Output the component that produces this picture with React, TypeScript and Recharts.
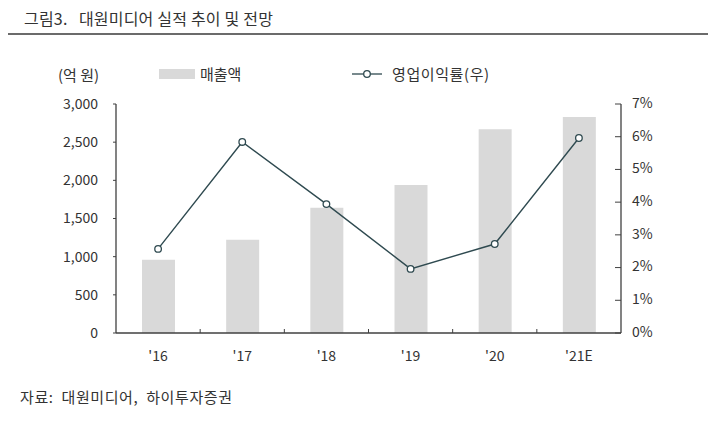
import React from 'react';
import { ComposedChart, Bar, Line, XAxis, YAxis } from 'recharts';

const categories = ["'16", "'17", "'18", "'19", "'20", "'21E"];
const sales = [960, 1220, 1640, 1940, 2670, 2830];
const opMargin = [2.57, 5.84, 3.94, 1.96, 2.72, 5.96];
const leftTicks = [0, 500, 1000, 1500, 2000, 2500, 3000];
const rightTicks = [0, 1, 2, 3, 4, 5, 6, 7];

const data = categories.map((name, i) => ({ name, sales: sales[i], margin: opMargin[i] }));

const W = 719;
const H = 426;
const M = { top: 104, left: 0, right: 0, bottom: 0 };
const LEFT_W = 116;
const RIGHT_W = 98;
const X_H = 93;
const plotW = W - LEFT_W - RIGHT_W;
const band = plotW / categories.length;

const FONT = '"Noto Sans CJK KR", "Noto Sans", sans-serif';
const TEXT = '#333333';
const AXIS = '#404040';
const LINE = '#2f4a50';

const XTick = (props: any) => {
  const { x, y, payload, index } = props;
  return (
    <g>
      {index > 0 && (
        <line x1={x - band / 2} x2={x - band / 2} y1={y} y2={y - 4} stroke={AXIS} strokeWidth={1} />
      )}
      <text x={x} y={y + 24} textAnchor="middle" dominantBaseline="middle" fill={TEXT} fontSize={14} fontFamily={FONT}>
        {payload.value}
      </text>
    </g>
  );
};

const RightTick = (props: any) => {
  const { x, y, payload } = props;
  const ax = x - 11;
  return (
    <g>
      <line x1={ax - 6} x2={ax} y1={y} y2={y} stroke={AXIS} strokeWidth={1} />
      <text x={x} y={y} textAnchor="start" dominantBaseline="middle" fill={TEXT} fontSize={14} fontFamily={FONT}>
        {`${payload.value}%`}
      </text>
    </g>
  );
};

export default function App() {
  return (
    <div style={{ position: 'absolute', left: 0, top: 0, width: W, height: H, background: '#fff', fontFamily: FONT, color: TEXT }}>
      <div style={{ position: 'absolute', left: 24, top: 6, fontSize: 16, whiteSpace: 'pre', letterSpacing: 0.2 }}>
        {'그림3.   대원미디어 실적 추이 및 전망'}
      </div>
      <div style={{ position: 'absolute', left: 8, top: 33, width: 700, height: 2, background: '#6b6b6b' }} />

      <div style={{ position: 'absolute', left: 58, top: 64, fontSize: 15 }}>(억 원)</div>

      <div style={{ position: 'absolute', left: 159, top: 69, width: 36, height: 10, background: '#d9d9d9' }} />
      <div style={{ position: 'absolute', left: 200, top: 63, fontSize: 15 }}>매출액</div>

      <svg style={{ position: 'absolute', left: 350, top: 66 }} width={34} height={16}>
        <line x1={2} x2={32} y1={8} y2={8} stroke={LINE} strokeWidth={1.3} />
        <circle cx={17} cy={8} r={3.3} fill="#fff" stroke={LINE} strokeWidth={1.3} />
      </svg>
      <div style={{ position: 'absolute', left: 392, top: 63, fontSize: 15, letterSpacing: 0.6 }}>영업이익률(우)</div>

      <div style={{ position: 'absolute', left: 20, top: 386, fontSize: 15, letterSpacing: 0.6, whiteSpace: 'pre' }}>자료:  대원미디어,  하이투자증권</div>

      <div style={{ position: 'absolute', left: 0, top: 0 }}>
        <ComposedChart width={W} height={H} data={data} margin={M}>
          <XAxis
            dataKey="name"
            height={X_H}
            axisLine={{ stroke: AXIS, strokeWidth: 1.3 }}
            tickLine={false}
            tickSize={0}
            tickMargin={0}
            tick={<XTick />}
            interval={0}
          />
          <YAxis
            yAxisId="left"
            orientation="left"
            width={LEFT_W}
            domain={[0, 3000]}
            ticks={leftTicks}
            interval={0}
            axisLine={{ stroke: AXIS, strokeWidth: 1.3 }}
            tickLine={{ stroke: AXIS }}
            tickSize={3}
            tickMargin={15}
            tickFormatter={(v: number) => v.toLocaleString('en-US')}
            tick={{ fill: TEXT, fontSize: 14, fontFamily: FONT }}
          />
          <YAxis
            yAxisId="right"
            orientation="right"
            width={RIGHT_W}
            domain={[0, 7]}
            ticks={rightTicks}
            interval={0}
            axisLine={{ stroke: AXIS, strokeWidth: 1.3 }}
            tickLine={false}
            tickSize={0}
            tickMargin={11}
            tick={<RightTick />}
          />
          <Bar yAxisId="left" dataKey="sales" fill="#d9d9d9" barSize={33} isAnimationActive={false} />
          <Line
            yAxisId="right"
            dataKey="margin"
            stroke={LINE}
            strokeWidth={1.4}
            dot={{ r: 3.3, fill: '#fff', stroke: LINE, strokeWidth: 1.3 }}
            activeDot={false}
            isAnimationActive={false}
          />
        </ComposedChart>
      </div>
    </div>
  );
}
